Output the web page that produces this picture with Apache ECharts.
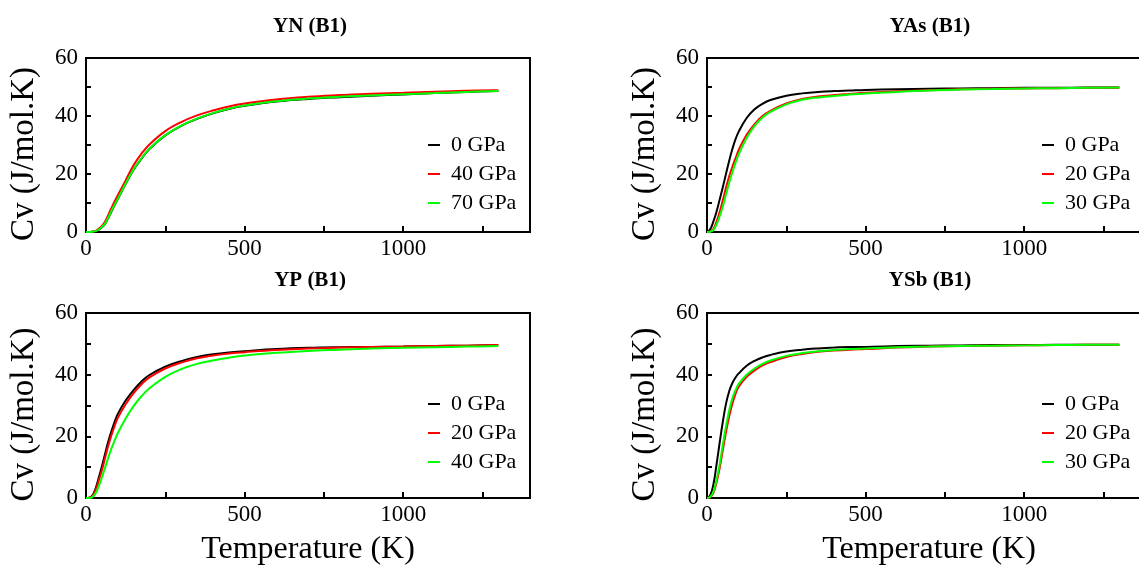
<!DOCTYPE html>
<html>
<head>
<meta charset="utf-8">
<script src="https://cdn.jsdelivr.net/npm/echarts@6/dist/echarts.min.js"></script>
<style>html,body{margin:0;padding:0;background:#fff;}#c{width:1139px;height:566px;}</style>
</head>
<body>
<div id="c"></div>
<script>
// Temperature grid (K)
const temps = [0,10,20,30,40,50,60,70,80,90,100,125,150,175,200,250,300,350,400,450,500,600,700,800,900,1000,1100,1200,1300];

// Panel titles and legends
const panelTitles = ['YN (B1)', 'YAs (B1)', 'YP (B1)', 'YSb (B1)'];
const pressuresYN  = ['0 GPa', '40 GPa', '70 GPa'];
const pressuresYAs = ['0 GPa', '20 GPa', '30 GPa'];
const pressuresYP  = ['0 GPa', '20 GPa', '40 GPa'];
const pressuresYSb = ['0 GPa', '20 GPa', '30 GPa'];

// Cv (J/mol.K) values
const yn0  = [0,0,0.1,0.3,0.8,1.6,2.8,4.8,7.0,9.2,11.3,16.6,21.5,25.3,28.6,33.3,36.6,39.0,40.9,42.4,43.5,45.0,45.9,46.5,47.0,47.4,47.9,48.3,48.6];
const yn40 = [0,0,0.1,0.4,1.1,2.1,3.5,5.8,8.2,10.5,12.6,17.8,23.0,27.0,30.2,34.8,37.9,40.2,41.9,43.3,44.3,45.7,46.6,47.2,47.7,48.0,48.4,48.7,48.9];
const yn70 = [0,0,0.1,0.3,0.8,1.7,2.9,4.9,7.2,9.4,11.4,16.7,21.6,25.4,28.7,33.4,36.7,39.1,41.0,42.5,43.6,45.1,46.0,46.6,47.1,47.5,47.9,48.3,48.6];

const yas0  = [0,0.9,3.6,7.0,11.2,15.5,20.1,24.6,28.6,32.0,34.6,39.3,42.3,44.2,45.5,47.0,47.8,48.3,48.6,48.8,49.0,49.2,49.4,49.5,49.6,49.7,49.7,49.8,49.8];
const yas20 = [0,0.2,1.0,3.5,6.9,11.0,15.3,19.2,22.5,25.4,28.3,33.5,37.2,40.0,41.8,44.3,45.9,46.7,47.2,47.6,48.0,48.5,48.9,49.2,49.4,49.5,49.6,49.7,49.8];
const yas30 = [0,0.1,0.7,2.6,5.5,8.9,13.0,17.0,20.6,23.9,26.8,32.4,36.6,39.5,41.4,44.0,45.6,46.4,46.9,47.4,47.8,48.3,48.8,49.1,49.3,49.5,49.6,49.7,49.8];

const yp0  = [0,0.1,0.8,3.0,6.5,10.2,14.3,18.2,21.6,24.6,27.2,31.6,35.0,37.8,39.9,42.6,44.4,45.7,46.6,47.2,47.6,48.3,48.7,48.9,49.0,49.1,49.3,49.4,49.6];
const yp20 = [0,0.1,0.6,2.5,5.6,9.0,13.0,16.9,20.3,23.3,25.9,30.4,34.0,36.9,39.1,42.0,43.9,45.3,46.2,46.9,47.3,48.0,48.5,48.8,49.0,49.1,49.3,49.4,49.6];
const yp40 = [0,0,0.3,1.5,3.8,6.6,9.8,13.0,16.0,18.6,21.0,25.8,29.8,33.0,35.6,39.3,41.8,43.5,44.6,45.5,46.2,47.1,47.7,48.1,48.5,48.7,48.9,49.1,49.3];

const ysb0  = [0,0.8,4.3,10.8,18.0,24.8,30.6,34.6,37.3,39.1,40.4,42.9,44.5,45.6,46.4,47.5,48.1,48.5,48.8,49.0,49.0,49.3,49.4,49.5,49.6,49.6,49.7,49.7,49.7];
const ysb20 = [0,0.2,1.6,5.0,9.8,15.6,21.4,26.5,30.6,33.8,36.1,39.3,41.4,43.0,44.1,45.7,46.7,47.4,47.8,48.1,48.3,48.8,49.1,49.3,49.4,49.5,49.6,49.7,49.7];
const ysb30 = [0,0.3,2.0,5.8,11.0,17.3,23.3,28.4,32.3,35.0,37.0,40.0,42.0,43.5,44.6,46.1,47.0,47.6,48.0,48.3,48.5,48.9,49.1,49.3,49.4,49.5,49.6,49.7,49.7];

// Axis ticks
const xTicks = [0,250,500,750,1000,1250];
const xLabels = [0,500,1000];
const yTicks = [0,10,20,30,40,50,60];
const yLabels = [0,20,40,60];

const colors = ['#000000', '#ff0000', '#00ff00'];
const FONT = '"Liberation Serif", "DejaVu Serif", serif';

const panels = [
  {title: panelTitles[0], names: pressuresYN,  data: [yn0, yn40, yn70]},
  {title: panelTitles[1], names: pressuresYAs, data: [yas0, yas20, yas30]},
  {title: panelTitles[2], names: pressuresYP,  data: [yp0, yp20, yp40]},
  {title: panelTitles[3], names: pressuresYSb, data: [ysb0, ysb20, ysb30]}
];

const gridPos = [
  {left: 86,  top: 58,  width: 444, height: 174},
  {left: 707, top: 58,  width: 444, height: 174},
  {left: 86,  top: 313, width: 444, height: 185},
  {left: 707, top: 313, width: 444, height: 185}
];
const legendPos = [
  {left: 428, top: 134},
  {left: 1042, top: 134},
  {left: 428, top: 393},
  {left: 1042, top: 393}
];
const titleCenters = [{x: 310, y: 16}, {x: 930, y: 16}, {x: 310, y: 270}, {x: 930, y: 270}];

const option = {
  animation: false,
  backgroundColor: '#ffffff',
  title: panels.map((p, i) => ({
    text: p.title,
    left: titleCenters[i].x,
    top: titleCenters[i].y,
    textAlign: 'center',
    padding: 0,
    textStyle: {fontFamily: FONT, fontWeight: 'bold', fontSize: 21, color: '#000'}
  })),
  grid: gridPos.map(g => Object.assign({show: true, borderColor: '#000', borderWidth: 2, backgroundColor: 'transparent', outerBoundsMode: 'none', containLabel: false}, g)),
  legend: panels.map((p, i) => ({
    orient: 'vertical',
    left: legendPos[i].left,
    top: legendPos[i].top,
    itemWidth: 12,
    itemHeight: 2,
    itemGap: 7,
    padding: 0,
    selectedMode: false,
    icon: 'rect',
    textStyle: {fontFamily: FONT, fontSize: 22, color: '#000', padding: [0, 0, 0, 6]},
    data: p.names.map((n, k) => ({name: n, icon: 'rect', itemStyle: {color: colors[k], borderWidth: 0}}))
  })),
  xAxis: panels.map((p, i) => ({
    type: 'value',
    gridIndex: i,
    min: 0, max: 1400,
    name: i >= 2 ? 'Temperature (K)' : '',
    nameLocation: 'middle',
    nameGap: 36,
    nameTextStyle: {fontFamily: FONT, fontSize: 32, color: '#000'},
    axisLine: {show: true, lineStyle: {color: '#000', width: 2}},
    axisTick: {show: true, inside: true, length: 6, lineStyle: {color: '#000', width: 2}, customValues: xTicks},
    axisLabel: {fontFamily: FONT, fontSize: 23, color: '#000', margin: 5, customValues: xLabels, formatter: v => String(v)},
    splitLine: {show: false}
  })),
  yAxis: panels.map((p, i) => ({
    type: 'value',
    gridIndex: i,
    min: 0, max: 60,
    name: 'Cv (J/mol.K)',
    nameLocation: 'middle',
    nameGap: 45,
    nameTextStyle: {fontFamily: FONT, fontSize: 33, color: '#000', padding: [0, 18, 0, 0]},
    axisLine: {show: true, lineStyle: {color: '#000', width: 2}},
    axisTick: {show: true, inside: true, length: 5, lineStyle: {color: '#000', width: 2}, customValues: yTicks},
    axisLabel: {fontFamily: FONT, fontSize: 23, color: '#000', margin: 8, customValues: yLabels, formatter: v => String(v)},
    splitLine: {show: false}
  })),
  series: []
};

panels.forEach((p, i) => {
  p.data.forEach((vals, k) => {
    option.series.push({
      type: 'line',
      name: p.names[k],
      xAxisIndex: i,
      yAxisIndex: i,
      data: temps.map((t, j) => [t, vals[j]]),
      smooth: 0.4,
      showSymbol: false,
      symbol: 'none',
      lineStyle: {color: colors[k], width: 2},
      itemStyle: {color: colors[k]},
      z: 2 + k
    });
  });
});

const chart = echarts.init(document.getElementById('c'), null, {renderer: 'canvas'});
chart.setOption(option);
</script>
</body>
</html>
